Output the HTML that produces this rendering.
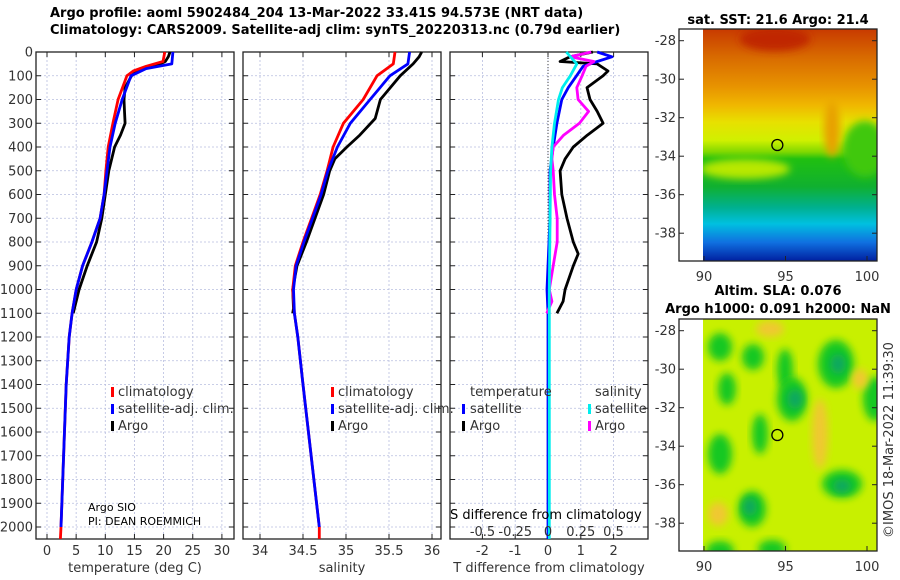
<!DOCTYPE html>
<html><head><meta charset="utf-8"><style>
body{margin:0;background:#fff}
svg{display:block;font-family:"DejaVu Sans","Liberation Sans",sans-serif}
.t{font-size:13px;fill:#333}
.b{font-weight:bold;fill:#000;font-size:13px}
</style></head><body>
<svg id="fig" width="900" height="580" viewBox="0 0 900 580">
<defs>
<filter id="bl" x="-20%" y="-20%" width="140%" height="140%"><feGaussianBlur stdDeviation="6"/></filter>
<filter id="bl2" x="-30%" y="-30%" width="160%" height="160%"><feGaussianBlur stdDeviation="4"/></filter>
<clipPath id="c1"><rect x="703" y="29" width="174" height="232"/></clipPath>
<clipPath id="c2"><rect x="703" y="319" width="174" height="232"/></clipPath>
<linearGradient id="sstg" x1="0" y1="0" x2="0" y2="1">
<stop offset="0" stop-color="#c83a00"/><stop offset="0.12" stop-color="#d86a00"/>
<stop offset="0.25" stop-color="#e89400"/><stop offset="0.33" stop-color="#f0b800"/>
<stop offset="0.4" stop-color="#e8e000"/><stop offset="0.48" stop-color="#d0f000"/>
<stop offset="0.53" stop-color="#80d800"/><stop offset="0.56" stop-color="#20c010"/><stop offset="0.68" stop-color="#10b030"/>
<stop offset="0.77" stop-color="#00b090"/><stop offset="0.84" stop-color="#00c0e0"/>
<stop offset="0.92" stop-color="#1070e0"/><stop offset="1" stop-color="#0020a0"/>
</linearGradient>
</defs>
<text class="b" x="50" y="17">Argo profile: aoml 5902484_204 13-Mar-2022 33.41S 94.573E (NRT data)</text>
<text class="b" x="50" y="34">Climatology: CARS2009. Satellite-adj clim: synTS_20220313.nc (0.79d earlier)</text>
<g id="plots"></g>
<g id="maps"></g>
</svg>
<script>
// ---------- data ----------
const depthTicks=[0,100,200,300,400,500,600,700,800,900,1000,1100,1200,1300,1400,1500,1600,1700,1800,1900,2000];
const tTicks=[0,5,10,15,20,25,30];
const sTicks=[34,34.5,35,35.5,36];
const dTTicks=[-2,-1,0,1,2];
const dSTicks=[-0.5,-0.25,0,0.25,0.5];
const tClimDepth=[0,40,60,80,100,200,300,400,500,600,700,800,900,1000,1100,1200,1400,2000,2050];
const tClim=[20.2,19.9,17,14.8,13.7,12.2,11.3,10.5,10.1,9.8,9.1,7.7,6.1,5.0,4.3,3.8,3.3,2.4,2.3];
const tSatDepth=[0,50,70,100,200,300,400,500,600,700,800,900,1000,1100,1200,1400,2000];
const tSat=[21.6,21.4,17,14.4,12.9,11.7,10.8,10.3,9.8,9.1,7.7,6.1,5.0,4.3,3.8,3.3,2.4];
const tArgoDepth=[0,20,40,50,70,100,150,200,250,300,350,400,500,600,700,800,900,1000,1100];
const tArgo=[21.1,20.8,20.3,19.4,16,14.5,13.4,13.2,13.3,13.4,12.6,11.6,10.6,10.0,9.4,8.5,6.9,5.5,4.5];
const sClimDepth=[0,50,100,200,300,400,500,600,700,800,900,1000,1100,1200,1400,2000,2050];
const sClim=[35.57,35.55,35.36,35.2,34.97,34.85,34.78,34.7,34.6,34.5,34.41,34.38,34.4,34.44,34.5,34.69,34.69];
const sSatDepth=[0,50,100,200,300,400,500,600,700,800,900,1000,1100,1200,1400,2000];
const sSat=[35.74,35.72,35.51,35.28,35.05,34.9,34.79,34.71,34.61,34.51,34.42,34.39,34.4,34.44,34.5,34.69];
const sArgoDepth=[0,20,50,100,200,280,350,400,450,500,600,700,800,900,1000,1080,1100];
const sArgo=[35.88,35.85,35.78,35.63,35.4,35.34,35.16,35.01,34.87,34.81,34.74,34.64,34.54,34.43,34.38,34.39,34.38];
const dTArgoDepth=[0,20,40,50,80,100,150,200,250,300,350,400,450,500,600,700,800,850,900,1000,1050,1100];
const dTArgo=[1.37,0.67,0.37,1.5,1.83,1.68,1.19,1.28,1.5,1.68,1.2,0.77,0.52,0.37,0.42,0.58,0.77,0.92,0.77,0.52,0.46,0.27];
const dTSatDepth=[0,20,40,60,100,150,200,300,400,500,700,1000,1100,2050];
const dTSat=[1.5,1.95,1.5,1.07,0.87,0.62,0.42,0.27,0.16,0.06,0.06,-0.03,0,0];
const dSArgoDepth=[0,20,40,60,100,150,200,250,300,350,400,450,500,600,700,800,900,1000,1050,1100];
const dSArgo=[0.33,0.17,0.35,0.29,0.26,0.22,0.23,0.31,0.24,0.12,0.04,0.03,0.04,0.05,0.07,0.07,0.04,0.01,0.03,-0.01];
const dSSatDepth=[0,50,100,150,200,300,400,500,1000,2050];
const dSSat=[0.14,0.22,0.17,0.11,0.08,0.05,0.03,0.02,0.01,0.01];
const mapLats=[-28,-30,-32,-34,-36,-38];
const mapLons=[90,95,100];
const argoLon=94.5, argoLat=-33.42;
// ---------- drawing ----------
const NS="http://www.w3.org/2000/svg";
function mk(tag,attrs,parent){const e=document.createElementNS(NS,tag);for(const k in attrs)e.setAttribute(k,attrs[k]);parent.appendChild(e);return e;}
const plots=document.getElementById('plots');
const Y=d=>52+d*0.2375;
const yTop=52,yBot=539;
const panels=[
 {x0:36,x1:234,sx:v=>47+v*5.83,ticks:tTicks,name:'temperature-panel'},
 {x0:243,x1:441,sx:v=>260+(v-34)*86,ticks:sTicks,name:'salinity-panel'},
 {x0:450,x1:648,sx:v=>548+v*32.8,ticks:dTTicks,name:'difference-panel'}
];
const dS=v=>548+v*131;
panels.forEach((p,i)=>{
 const g=mk('g',{},plots);
 
 
 depthTicks.forEach(d=>{const l=mk('line',{x1:p.x0,x2:p.x1,y1:Y(d),y2:Y(d),stroke:'#b8bedf','stroke-width':0.8,'stroke-dasharray':'2,2'},g);
  
  mk('line',{x1:p.x0,x2:p.x0+5,y1:Y(d),y2:Y(d),stroke:'#222'},g);mk('line',{x1:p.x1-5,x2:p.x1,y1:Y(d),y2:Y(d),stroke:'#222'},g);
  if(i===0){const t=mk('text',{x:p.x0-3,y:Y(d)+4.5,'text-anchor':'end',class:'t'},g);t.textContent=d;
   }
 });
 p.ticks.forEach(v=>{const x=p.sx(v);
  const l=mk('line',{x1:x,x2:x,y1:yTop,y2:yBot,stroke:'#b8bedf','stroke-width':0.8,'stroke-dasharray':'2,2'},g);
  
  mk('line',{x1:x,x2:x,y1:yBot-5,y2:yBot,stroke:'#222'},g);mk('line',{x1:x,x2:x,y1:yTop,y2:yTop+5,stroke:'#222'},g);
  const t=mk('text',{x:x,y:555,'text-anchor':'middle',class:'t'},g);t.textContent=v;
  
 });
 const f=mk('rect',{x:p.x0,y:yTop,width:p.x1-p.x0,height:yBot-yTop,fill:'none',stroke:'#222','stroke-width':1.3},g);
 
});
function line(depths,vals,sx,color,name,w){
 const pts=depths.map((d,i)=>sx(vals[i]).toFixed(1)+','+Y(d).toFixed(1)).join(' ');
 const pl=mk('polyline',{points:pts,fill:'none',stroke:color,'stroke-width':w||2.8,'stroke-linejoin':'round'},plots);
 
 
}
line(tArgoDepth,tArgo,panels[0].sx,'#000','temperature-argo-line');
line(tClimDepth,tClim,panels[0].sx,'#f00','temperature-climatology-line');
line(tSatDepth,tSat,panels[0].sx,'#00f','temperature-satellite-line');
line(sArgoDepth,sArgo,panels[1].sx,'#000','salinity-argo-line');
line(sClimDepth,sClim,panels[1].sx,'#f00','salinity-climatology-line');
line(sSatDepth,sSat,panels[1].sx,'#00f','salinity-satellite-line');
const zl=mk('line',{x1:548,x2:548,y1:yTop,y2:yBot,stroke:'#444','stroke-dasharray':'1,2'},plots);

line(dTArgoDepth,dTArgo,panels[2].sx,'#000','t-diff-argo-line');
line(dTSatDepth,dTSat,panels[2].sx,'#00f','t-diff-satellite-line');
line(dSArgoDepth,dSArgo,dS,'#f0f','s-diff-argo-line');
line(dSSatDepth,dSSat,dS,'#0ee','s-diff-satellite-line');
dSTicks.forEach(v=>{const t=mk('text',{x:dS(v),y:536,'text-anchor':'middle',class:'t'},plots);t.textContent=v;
 });
// text items
function txt(x,y,s,name,extra){const t=mk('text',Object.assign({x:x,y:y,class:'t'},extra||{}),plots);t.textContent=s;
 return t;}
function mark(x,y,c){const r=mk('rect',{x:x,y:y-10,width:3,height:10,fill:c},plots);}
[[111,118],[331,338]].forEach(([mx,tx])=>{
 mark(mx,397,'#f00');txt(tx,396,'climatology','legend-climatology');
 mark(mx,414,'#00f');txt(tx,413,'satellite-adj. clim.','legend-satellite-adj');
 mark(mx,431,'#000');txt(tx,430,'Argo','legend-argo');
});
txt(470,396,'temperature','legend-temperature-header');
mark(462,414,'#00f');txt(470,413,'satellite','legend-t-satellite');
mark(462,431,'#000');txt(470,430,'Argo','legend-t-argo');
txt(595,396,'salinity','legend-salinity-header');
mark(588,414,'#0ee');txt(595,413,'satellite','legend-s-satellite');
mark(588,431,'#f0f');txt(595,430,'Argo','legend-s-argo');
txt(88,511,'Argo SIO','institution-label',{style:'font-size:11px;fill:#000'});
txt(88,525,'PI: DEAN ROEMMICH','pi-label',{style:'font-size:11px;fill:#000'});
txt(450,519,'S difference from climatology','s-diff-axis-title',{style:'fill:#000'});
txt(135,572,'temperature (deg C)','x-axis-title-temperature',{'text-anchor':'middle'});
txt(342,572,'salinity','x-axis-title-salinity',{'text-anchor':'middle'});
txt(549,572,'T difference from climatology','x-axis-title-tdiff',{'text-anchor':'middle'});
// ---------- maps ----------
const maps=document.getElementById('maps');
const LX=v=>704+(v-90)*16.3;
function drawMap(top,clip,name,fillFn){
 const g=mk('g',{},maps);
 
 
 const LY=v=>top+11.7+(-28-v)*19.25;
 const cg=mk('g',{'clip-path':'url(#'+clip+')'},g);
 fillFn(cg,top);
 mapLats.forEach(v=>{mk('line',{x1:679,x2:684,y1:LY(v),y2:LY(v),stroke:'#222'},g);mk('line',{x1:872,x2:877,y1:LY(v),y2:LY(v),stroke:'#222'},g);
  const t=mk('text',{x:676,y:LY(v)+4.5,'text-anchor':'end',class:'t'},g);t.textContent=v;
  });
 mapLons.forEach(v=>{mk('line',{x1:LX(v),x2:LX(v),y1:top+227,y2:top+232,stroke:'#222'},g);
  const t=mk('text',{x:LX(v),y:top+252,'text-anchor':'middle',class:'t'},g);t.textContent=v;
  });
 const c=mk('circle',{cx:LX(argoLon),cy:LY(argoLat),r:5.5,fill:'none',stroke:'#000','stroke-width':1.3},g);
 
 mk('rect',{x:679,y:top,width:198,height:232,fill:'none',stroke:'#222','stroke-width':1.3},g);
}
drawMap(29,'c1','sst-map',(g,top)=>{
 mk('rect',{x:703,y:top,width:174,height:232,fill:'url(#sstg)'},g);
 mk('ellipse',{cx:775,cy:top+10,rx:35,ry:12,fill:'#c02800',filter:'url(#bl2)'},g);
 mk('ellipse',{cx:865,cy:top+120,rx:22,ry:28,fill:'#40c810',filter:'url(#bl2)'},g);
 mk('ellipse',{cx:832,cy:top+100,rx:8,ry:28,fill:'#e8a000',filter:'url(#bl2)'},g);
 mk('ellipse',{cx:745,cy:top+140,rx:45,ry:10,fill:'#b8e800',filter:'url(#bl2)'},g);
});
drawMap(319,'c2','sla-map',(g,top)=>{
 mk('rect',{x:703,y:top,width:174,height:232,fill:'#c8f000'},g);
 const blobs=[[720,28,12,14],[753,38,11,13],[785,50,8,20],[727,70,9,16],[792,80,15,22],[836,45,18,24],[875,80,12,22],[760,115,8,20],[720,135,12,20],[752,190,14,18],[842,165,20,14],[720,232,14,10],[772,230,14,9]];
 blobs.forEach(b=>mk('ellipse',{cx:b[0],cy:top+b[1],rx:b[2],ry:b[3],fill:'#18c820',filter:'url(#bl2)'},g));
 [[795,80,8,10],[838,45,8,10],[750,188,7,9],[842,167,9,7]].forEach(b=>mk('ellipse',{cx:b[0],cy:top+b[1],rx:b[2],ry:b[3],fill:'#10a860',filter:'url(#bl2)'},g));
 [[820,115,8,35],[718,195,10,12],[770,10,14,8],[860,60,8,10]].forEach(b=>mk('ellipse',{cx:b[0],cy:top+b[1],rx:b[2],ry:b[3],fill:'#f0c830',filter:'url(#bl2)'},g));
});
function mtxt(x,y,s,name,extra){const t=mk('text',Object.assign({x:x,y:y,class:'b','text-anchor':'middle'},extra||{}),maps);t.textContent=s;
 }
mtxt(778,24,'sat. SST: 21.6 Argo: 21.4','sst-map-title');
mtxt(778,295,'Altim. SLA: 0.076','sla-map-title-1');
mtxt(778,313,'Argo h1000: 0.091 h2000: NaN','sla-map-title-2');
const cr=mk('text',{x:0,y:0,class:'t',transform:'translate(893,440) rotate(-90)','text-anchor':'middle'},maps);
cr.textContent='©IMOS 18-Mar-2022 11:39:30';


</script>
</body></html>
